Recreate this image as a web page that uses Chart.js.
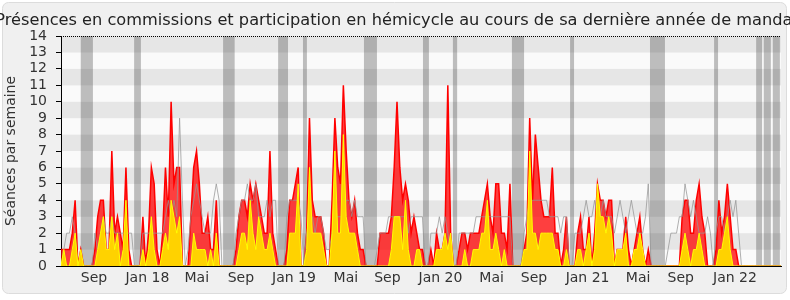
<!DOCTYPE html>
<html><head><meta charset="utf-8">
<script src="https://cdn.jsdelivr.net/npm/chart.js@4.4.1/dist/chart.umd.min.js"></script>
<style>html,body{margin:0;padding:0;background:#fff}#wrap{width:790px;height:300px;position:relative}</style>
</head><body><div id="wrap"><canvas id="c" width="790" height="300"></canvas></div>
<script>
const titleText = "Présences en commissions et participation en hémicycle au cours de sa dernière année de mandat";
const yAxisTitle = "Séances par semaine";
const monthLabels = ["Sep","Jan 18","Mai","Sep","Jan 19","Mai","Sep","Jan 20","Mai","Sep","Jan 21","Mai","Sep","Jan 22"];
const monthWeeks = [11.7,30.6,48.1,63.7,82.5,100.9,115.6,134.4,152.5,167.5,186.5,204.4,219.5,238.7];
const vacations = [[7.0,11.3],[25.9,28.3],[57.4,61.5],[76.9,80.4],[85.7,87.1],[107.3,111.9],[128.2,130.3],[138.8,140.3],[159.7,164.0],[180.3,181.7],[208.6,213.9],[231.3,232.7],[246.2,248.3],[248.9,251.4],[252.1,254.6]];

// total weekly sessions (red)
const hemicycle = [
1,1,1,1,2,4,0,1,0,0,
0,0,1,3,4,4,1,1,7,2,
3,2,1,6,1,0,0,0,0,3,
0,2,6,5,1,0,2,6,3,10,
5,6,6,0,0,0,3,6,7,5,
2,2,3,1,1,4,0,0,0,0,
0,0,1,3,4,4,3,5,4,5,
4,3,2,2,7,2,1,0,0,0,
1,4,4,5,6,0,0,2,9,4,
3,3,3,2,0,0,4,9,6,5,
11,7,4,3,4,2,1,1,0,0,
0,0,0,2,2,2,2,3,6,10,
6,4,5,4,2,3,2,1,1,0,
0,1,0,2,1,1,2,11,2,0,
0,1,2,2,1,2,2,2,2,3,
4,5,3,2,5,5,2,2,1,5,
0,0,0,0,1,2,9,4,8,6,
4,3,3,3,6,2,2,0,1,3,
0,0,0,2,3,1,1,3,0,2,
5,4,4,3,4,4,0,1,1,1,
3,1,0,1,2,3,1,0,1,0,
0,0,0,0,0,0,0,0,0,0,
3,4,4,2,2,4,5,3,2,0,
0,0,1,4,2,3,5,3,1,1,
0,0,0,0,0,0,0,0,0,0,
0,0,0,0,0,0];

// commission presences (yellow)
const commission = [
0,1,0,0,1,2,0,1,0,0,
0,0,0,1,2,3,1,1,3,1,
2,0,1,4,0,0,0,0,0,1,
0,1,3,1,0,0,1,2,1,4,
3,2,3,0,0,0,0,2,1,1,
1,1,0,1,0,2,0,0,0,0,
0,0,0,1,2,2,1,4,2,1,
3,2,1,1,2,1,0,0,0,0,
0,2,2,2,5,0,0,1,6,2,
2,2,2,1,0,0,2,7,2,2,
8,3,2,2,2,1,0,0,0,0,
0,0,0,0,0,0,0,1,3,3,
3,1,4,1,0,0,1,1,0,0,
0,0,0,1,1,1,2,1,2,0,
0,0,0,1,0,0,1,1,1,2,
2,4,1,1,2,1,0,1,0,0,
0,0,0,0,1,1,7,2,2,1,
2,2,2,2,2,1,1,0,0,1,
0,0,0,1,1,0,1,2,0,1,
5,3,3,2,3,2,0,1,1,1,
2,0,0,1,1,2,1,0,0,0,
0,0,0,0,0,0,0,0,0,0,
1,2,1,0,1,1,2,1,0,0,
0,0,0,1,1,2,3,1,0,0,
0,0,0,0,0,0,0,0,0,0,
0,0,0,0,0,0];

// median of deputies (grey)
const mediane = [
0,1,2,2,3,2,0,0,0,0,
0,0,2,1,2,3,2,2,3,2,
2,2,2,2,2,2,0,0,0,2,
2,2,2,2,2,2,2,3,4,3,
4,3,9,4,0,1,3,4,5,4,
3,2,2,2,4,5,4,0,0,0,
0,0,2,3,4,4,5,4,4,5,
3,3,3,4,3,4,4,0,0,0,
3,4,4,4,4,3,0,2,3,3,
2,3,3,2,1,1,2,3,3,3,
3,4,4,3,4,3,3,3,0,0,
0,0,1,2,2,2,3,3,3,3,
3,3,3,2,3,3,3,3,3,0,
0,2,2,2,3,2,3,2,1,0,
0,2,2,2,2,2,2,3,3,3,
3,3,3,3,3,3,3,3,3,3,
0,0,0,0,2,3,4,4,4,4,
4,4,4,3,3,3,3,2,3,3,
0,0,2,2,2,3,4,3,3,4,
3,3,4,3,3,3,2,3,4,3,
2,3,4,3,2,2,2,3,5,0,
0,0,0,0,0,1,2,2,2,3,
3,5,4,3,4,3,2,2,2,3,
2,0,2,3,3,2,3,4,3,4,
2,0,0,0,0,0,0,0,0,0,
0,0,0,0,0,0];

Chart.defaults.font.family = '"DejaVu Sans", sans-serif';
const pts = arr => arr.map((v, i) => ({x: i, y: v}));

const bgPlugin = {
  id: 'bg',
  beforeDraw(chart) {
    const {ctx, chartArea: a, scales: {x, y}} = chart;
    ctx.save();
    ctx.fillStyle = '#ffffff';
    ctx.fillRect(0, 0, chart.width, chart.height);
    ctx.beginPath();
    ctx.roundRect(2.5, 2.5, 784, 291, 6);
    ctx.fillStyle = '#f0f0f0';
    ctx.fill();
    ctx.strokeStyle = '#dcdcdc';
    ctx.lineWidth = 1;
    ctx.stroke();
    for (let k = 0; k < 14; k++) {
      const t = y.getPixelForValue(k + 1), b = y.getPixelForValue(k);
      ctx.fillStyle = (k % 2 === 1) ? '#e6e6e6' : '#fafafa';
      ctx.fillRect(a.left, t, a.right - a.left, b - t);
    }
    ctx.fillStyle = 'rgba(50,50,50,0.3)';
    vacations.forEach(([s, e]) => {
      const l = x.getPixelForValue(s), r = x.getPixelForValue(e);
      ctx.fillRect(l, a.top, r - l, a.bottom - a.top);
    });
    ctx.strokeStyle = '#000';
    ctx.setLineDash([1, 1]);
    ctx.beginPath();
    ctx.moveTo(a.left, a.top + 0.5);
    ctx.lineTo(a.right, a.top + 0.5);
    ctx.stroke();
    ctx.setLineDash([]);
    ctx.fillStyle = '#222';
    ctx.font = '16.2px "DejaVu Sans"';
    ctx.textAlign = 'center';
    ctx.textBaseline = 'alphabetic';
    ctx.fillText(titleText, 397, 25);
    ctx.restore();
  }
};

new Chart(document.getElementById('c'), {
  type: 'line',
  data: {
    datasets: [
      {label: 'Commission', data: pts(commission), borderColor: '#ffff00', backgroundColor: 'rgb(255,210,0)', borderWidth: 1, fill: 'origin', pointRadius: 0, tension: 0},
      {label: 'Médiane', data: pts(mediane), borderColor: 'rgba(150,150,150,0.75)', borderWidth: 1, fill: false, pointRadius: 0, tension: 0},
      {label: 'Hémicycle', data: pts(hemicycle), borderColor: '#ff0000', backgroundColor: 'rgba(255,0,0,0.75)', borderWidth: 1.5, fill: 'origin', pointRadius: 0, tension: 0}
    ]
  },
  options: {
    responsive: false, animation: false, devicePixelRatio: 1,
    layout: {padding: {top: 36, right: 9, left: 0, bottom: 0}},
    plugins: {legend: {display: false}, tooltip: {enabled: false}, title: {display: false}},
    scales: {
      x: {
        type: 'linear', min: 0, max: 255, z: 1,
        grid: {display: false, drawTicks: false},
        border: {display: true, color: '#000', width: 1},
        afterBuildTicks: s => { s.ticks = monthWeeks.map(v => ({value: v})); },
        ticks: {autoSkip: false, maxRotation: 0, padding: 4, color: '#333', font: {size: 14}, callback: (v, i) => monthLabels[i]},
        afterFit: s => { s.height = 34; }
      },
      y: {
        min: 0, max: 14,
        afterBuildTicks: s => { const t = []; for (let v = 0; v <= 14; v++) t.push({value: v}); s.ticks = t; },
        ticks: {autoSkip: false, stepSize: 1, padding: 9, color: '#333', font: {size: 14}},
        grid: {drawOnChartArea: false, drawTicks: true, tickLength: 5, color: '#000'},
        border: {color: '#000'},
        title: {display: true, text: yAxisTitle, color: '#333', font: {size: 14}, padding: {top: 3, bottom: 0}},
        afterFit: s => { s.width = 61; }
      }
    }
  },
  plugins: [bgPlugin]
});
</script></body></html>
